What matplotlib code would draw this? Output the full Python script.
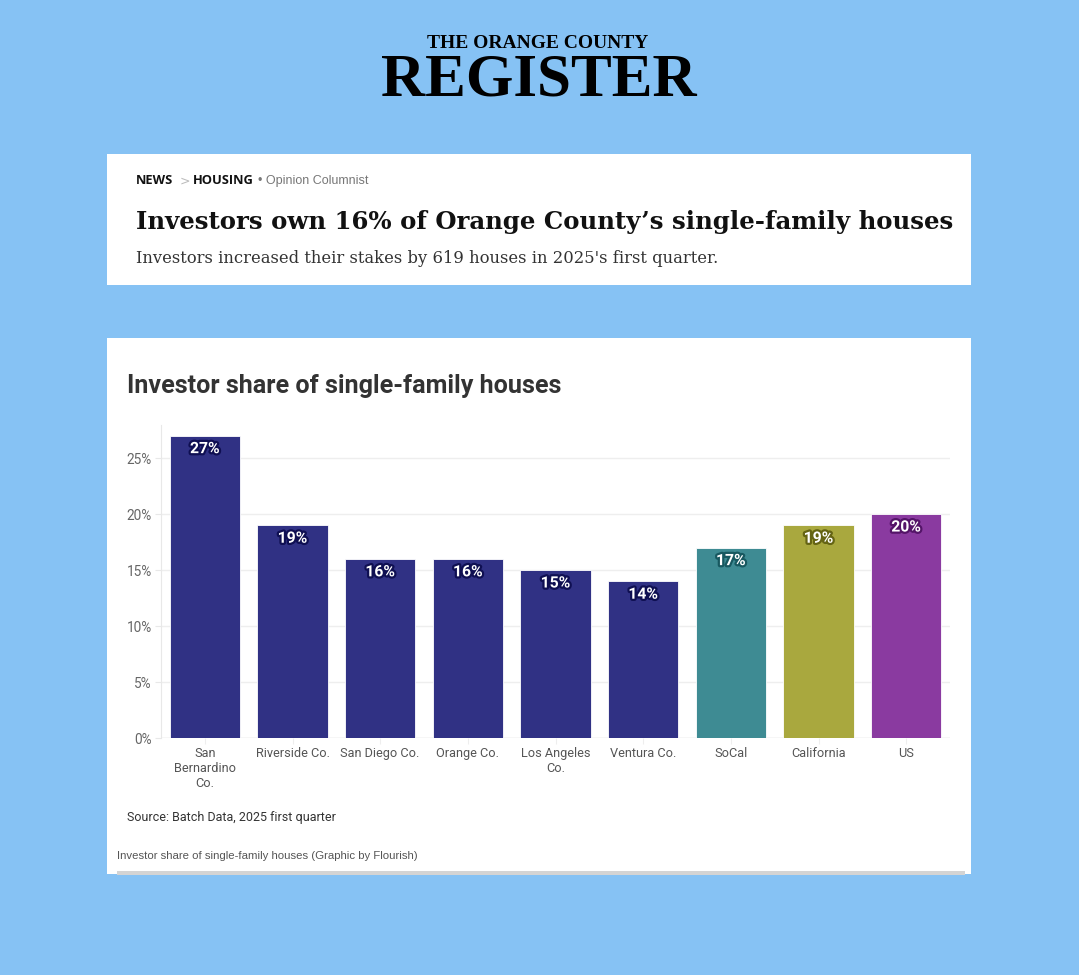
import matplotlib
matplotlib.use("Agg")
import matplotlib.pyplot as plt
from matplotlib.patches import Rectangle
import matplotlib.patheffects as pe

categories = ["San\nBernardino\nCo.", "Riverside Co.", "San Diego Co.", "Orange Co.",
              "Los Angeles\nCo.", "Ventura Co.", "SoCal", "California", "US"]
values = [27, 19, 16, 16, 15, 14, 17, 19, 20]
bar_colors = ["#303184", "#303184", "#303184", "#303184", "#303184", "#303184",
              "#3E8B93", "#A9A83E", "#8A3AA0"]
stroke_colors = ["#0f0f52", "#0f0f52", "#0f0f52", "#0f0f52", "#0f0f52", "#0f0f52",
                 "#175860", "#656414", "#541468"]
yticks = [0, 5, 10, 15, 20, 25]

W, H = 1079, 975
fig = plt.figure(figsize=(W / 100, H / 100), dpi=100)
fig.patch.set_facecolor("#86C2F4")

def fx(x):
    return x / W

def fy(y):
    return 1 - y / H

# panels
fig.patches.append(Rectangle((fx(107), fy(285)), fx(971) - fx(107), fy(154) - fy(285),
                             transform=fig.transFigure, facecolor="white", edgecolor="none", zorder=-2))
fig.patches.append(Rectangle((fx(107), fy(874)), fx(971) - fx(107), fy(338) - fy(874),
                             transform=fig.transFigure, facecolor="white", edgecolor="none", zorder=-2))
fig.patches.append(Rectangle((fx(117), fy(875)), fx(965) - fx(117), fy(871) - fy(875),
                             transform=fig.transFigure, facecolor="#d4d4d4", edgecolor="none", zorder=-1))

# masthead
fig.text(fx(538), fy(44), "THE ORANGE COUNTY", ha="center", va="center",
         family="Liberation Serif", fontweight="bold", fontsize=14, color="black")
fig.text(fx(539), fy(80), "REGISTER", ha="center", va="center",
         family="Liberation Serif", fontweight="bold", fontsize=44, color="black")

# news panel
fig.text(fx(136), fy(181), "NEWS", ha="left", va="center", family="Open Sans",
         fontweight="bold", fontsize=9.3, color="#111111")
fig.text(fx(180), fy(181), ">", ha="left", va="center", family="DejaVu Sans",
         fontsize=9, color="#bbbbbb")
fig.text(fx(193), fy(181), "HOUSING", ha="left", va="center", family="Open Sans",
         fontweight="bold", fontsize=9.3, color="#111111")
fig.text(fx(258), fy(181), "\u2022 Opinion Columnist", ha="left", va="center",
         family="Liberation Sans", fontsize=9.0, color="#777777")
fig.text(fx(136), fy(222), "Investors own 16% of Orange County\u2019s single-family houses",
         ha="left", va="center", family="DejaVu Serif", fontweight="bold",
         fontsize=17.6, color="#111111")
fig.text(fx(136), fy(258), "Investors increased their stakes by 619 houses in 2025's first quarter.",
         ha="left", va="center", family="DejaVu Serif", fontsize=11.75, color="#333333")

# chart title
fig.text(fx(127), fy(386), "Investor share of single-family houses", ha="left", va="center",
         family="Roboto", fontweight="bold", fontsize=18.1, color="#333333")

# axes
ax = fig.add_axes([fx(161), fy(738), fx(950) - fx(161), fy(425) - fy(738)])
ax.set_zorder(3)
ax.set_facecolor("none")
x = list(range(len(categories)))
ax.bar(x, values, width=0.8, color=bar_colors, edgecolor="white", linewidth=0.6, zorder=3)
ax.set_xlim(-0.5, len(categories) - 0.5)
ax.set_ylim(0, 27.95)
ax.set_yticks(yticks)
ax.set_yticklabels([f"{t}%" for t in yticks])
ax.set_xticks(x)
ax.set_xticklabels(categories, linespacing=1.2)
for s in ["top", "right", "bottom"]:
    ax.spines[s].set_visible(False)
ax.spines["left"].set_color("#e8e8e8")
ax.grid(axis="y", color="#eeeeee", linewidth=1, zorder=0)
ax.tick_params(axis="y", length=4.5, color="#e8e8e8", pad=2, labelcolor="#666666", labelsize=9.8)
ax.tick_params(axis="x", length=4.5, color="#eeeeee", pad=2, labelcolor="#555555", labelsize=9.2)
for lab in ax.get_yticklabels() + ax.get_xticklabels():
    lab.set_family("Roboto")
ax.axhline(0, color="#e4e4e4", linewidth=1, zorder=1)

for xi, v, sc in zip(x, values, stroke_colors):
    t = ax.annotate(f"{v}%", xy=(xi, v), xytext=(0, -13), textcoords="offset pixels",
                    ha="center", va="center", family="Roboto", fontweight="bold",
                    fontsize=11.3, color="white", zorder=5)
    t.set_path_effects([pe.withStroke(linewidth=3.2, foreground=sc)])

fig.text(fx(127), fy(817), "Source: Batch Data, 2025 first quarter", ha="left", va="center",
         family="Roboto", fontsize=9.0, color="#333333")
fig.text(fx(117), fy(856), "Investor share of single-family houses (Graphic by Flourish)",
         ha="left", va="center", family="Liberation Sans", fontsize=8.2, color="#555555")

fig.savefig("out.png", dpi=100, facecolor=fig.get_facecolor())
